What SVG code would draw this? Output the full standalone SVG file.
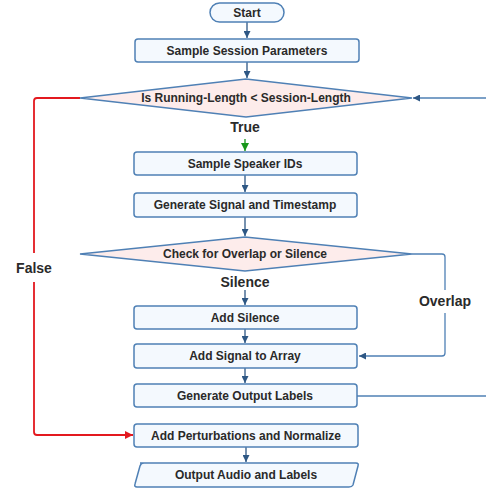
<svg xmlns="http://www.w3.org/2000/svg" width="486" height="490" viewBox="0 0 486 490">
<style>
.box{fill:#f4f9fe;stroke:#4f80b5;stroke-width:1.5}
.dia{fill:#fdeceb;stroke:#4f80b5;stroke-width:1.5}
.t{font-family:"Liberation Sans",Arial,sans-serif;font-weight:bold;font-size:12px;fill:#2a2a2a;text-anchor:middle;dominant-baseline:central}
.lbl{font-family:"Liberation Sans",Arial,sans-serif;font-weight:bold;font-size:14px;fill:#2a2a2a;text-anchor:middle;dominant-baseline:central}
.c{fill:none;stroke:#2e5784;stroke-width:1.3}
.cl{fill:none;stroke:#4f80b5;stroke-width:1.3}
.red{fill:none;stroke:#e3191f;stroke-width:1.8}
</style>
<defs>
<marker id="ab" viewBox="0 0 10 10" refX="10" refY="5" markerWidth="7" markerHeight="7" markerUnits="userSpaceOnUse" orient="auto"><path d="M0,0 L10,5 L0,10 z" fill="#2e5784"/></marker>
<marker id="ar" viewBox="0 0 10 10" refX="10" refY="5" markerWidth="8" markerHeight="8" markerUnits="userSpaceOnUse" orient="auto"><path d="M0,0 L10,5 L0,10 z" fill="#e3191f"/></marker>
<marker id="ag" viewBox="0 0 10 10" refX="10" refY="5" markerWidth="8" markerHeight="8" markerUnits="userSpaceOnUse" orient="auto"><path d="M0,0 L10,5 L0,10 z" fill="#18961a"/></marker>
</defs>
<g id="connectors">
<path class="c" d="M247,22 V38" marker-end="url(#ab)"/>
<path class="c" d="M247,62 V78" marker-end="url(#ab)"/>
<path d="M245,139 V151" stroke="#18961a" stroke-width="1.3" marker-end="url(#ag)"/>
<path class="c" d="M245,175 V192" marker-end="url(#ab)"/>
<path class="c" d="M245,217 V236" marker-end="url(#ab)"/>
<path class="c" d="M245,290 V305" marker-end="url(#ab)"/>
<path class="c" d="M245,329 V343" marker-end="url(#ab)"/>
<path class="c" d="M245,368 V383" marker-end="url(#ab)"/>
<path class="c" d="M246,447 V462" marker-end="url(#ab)"/>
<path class="cl" d="M412,254 H442 Q445,254 445,257 V290"/>
<path class="cl" d="M445,313 V353 Q445,356 442,356 H359" marker-end="url(#ab)"/>
<path class="cl" d="M357,396 H486"/>
<path class="cl" d="M486,98 H413" marker-end="url(#ab)"/>
<path class="red" d="M80,98 H37 Q34,98 34,101 V253"/>
<path class="red" d="M34,282 V432 Q34,435 37,435 H133" marker-end="url(#ar)"/>
<text class="lbl" x="245" y="127" font-size="17.5">True</text>
<text class="lbl" x="34" y="268" font-size="17">False</text>
<text class="lbl" x="245" y="282" font-size="14">Silence</text>
<text class="lbl" x="445" y="301" font-size="14">Overlap</text>
</g>
<g id="start"><rect class="box" x="210" y="3" width="74" height="19" rx="9.5"/><text class="t" x="247" y="13">Start</text></g>
<g id="sample-session"><rect class="box" x="135" y="39" width="224" height="23" rx="3"/><text class="t" x="247" y="51">Sample Session Parameters</text></g>
<g id="decision-length"><polygon class="dia" points="80,98 246,79 412,98 246,117"/><text class="t" x="246" y="98">Is Running-Length &lt; Session-Length</text></g>
<g id="sample-speaker"><rect class="box" x="134" y="152" width="223" height="23" rx="3"/><text class="t" x="245" y="164">Sample Speaker IDs</text></g>
<g id="generate-signal"><rect class="box" x="134" y="193" width="223" height="24" rx="3"/><text class="t" x="245" y="205">Generate Signal and Timestamp</text></g>
<g id="decision-overlap"><polygon class="dia" points="80,254 245,237 412,254 245,271"/><text class="t" x="245" y="254">Check for Overlap or Silence</text></g>
<g id="add-silence"><rect class="box" x="134" y="306" width="223" height="23" rx="3"/><text class="t" x="245" y="318">Add Silence</text></g>
<g id="add-signal"><rect class="box" x="134" y="344" width="223" height="24" rx="3"/><text class="t" x="245" y="356">Add Signal to Array</text></g>
<g id="generate-labels"><rect class="box" x="134" y="384" width="223" height="23" rx="3"/><text class="t" x="245" y="396">Generate Output Labels</text></g>
<g id="add-perturbations"><rect class="box" x="134" y="424" width="224" height="23" rx="3"/><text class="t" x="246" y="436">Add Perturbations and Normalize</text></g>
<g id="output"><path class="box" d="M140,463 H356 Q359,463 358,466 L353,485 Q352,487 349,487 H137 Q134,487 135,484 L140,466 Q141,463 144,463 z"/><text class="t" x="246" y="475">Output Audio and Labels</text></g>
</svg>
